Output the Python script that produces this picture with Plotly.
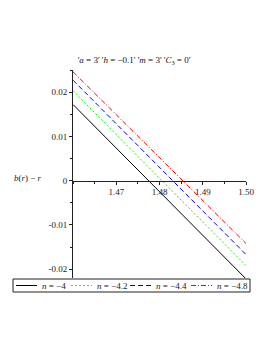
import plotly.graph_objects as go

r_vals = [1.46, 1.48, 1.50]
y_n4 = [0.0172, -0.0025, -0.0222]
y_n42 = [0.0203, 0.0006, -0.0192]
y_n44 = [0.0227, 0.0030, -0.0167]
y_n48 = [0.0246, 0.0052, -0.0142]

series_names = ["<i>n</i> = −4", "<i>n</i> = −4.2", "<i>n</i> = −4.4", "<i>n</i> = −4.8"]
series_values = [y_n4, y_n42, y_n44, y_n48]
series_colors = ["#000000", "#00ff00", "#0000ff", "#ff0000"]
series_dashes = ["solid", "2px,2px", "5px,3px", "5px,2px,1px,2px"]

xtick_vals = [1.47, 1.48, 1.49, 1.50]
xtick_text = ["1.47", "1.48", "1.49", "1.50"]
ytick_vals = [-0.02, -0.01, 0, 0.01, 0.02]
ytick_text = ["-0.02", "-0.01", "0", "0.01", "0.02"]

W, H = 273, 353
ml, mr, mt, mb = 73, 27, 70, 75
PW, PH = W - ml - mr, H - mt - mb
yr = [-0.022, 0.025]


def px_x(px):
    return (px - ml) / PW


def px_y(py):
    return (H - mb - py) / PH


fig = go.Figure()
for name, ys, col, dash in zip(series_names, series_values, series_colors, series_dashes):
    fig.add_trace(go.Scatter(x=r_vals, y=ys, mode="lines", name=name,
                             line=dict(color=col, dash=dash, width=1)))

frac0 = (0 - yr[0]) / (yr[1] - yr[0])

serif = "Liberation Serif, Times New Roman, serif"
font = dict(family=serif, size=9, color="#222")

fig.update_layout(
    width=W, height=H,
    margin=dict(l=ml, r=mr, t=mt, b=mb, autoexpand=False),
    paper_bgcolor="white", plot_bgcolor="white",
    font=font,
    showlegend=False,
    title=dict(text="'<i>a</i> = 3' '<i>h</i> = −0.1' '<i>m</i> = 3' '<i>C</i><sub>3</sub> = 0'",
               x=134 / W, xanchor="center", y=1 - 60 / H, yanchor="middle",
               font=dict(family=serif, size=9, color="#111")),
    xaxis=dict(range=[1.46, 1.50], tickvals=xtick_vals, ticktext=xtick_text,
               showgrid=False, zeroline=False, showline=True, linecolor="#222",
               linewidth=1, ticks="outside", ticklen=3, tickcolor="#222",
               anchor="free", position=frac0,
               minor=dict(dtick=0.005, tick0=1.46, ticks="outside", ticklen=2, tickcolor="#222")),
    yaxis=dict(range=yr, tickvals=ytick_vals, ticktext=ytick_text,
               showgrid=False, zeroline=False, showline=True, linecolor="#222",
               linewidth=1, ticks="outside", ticklen=3, tickcolor="#222",
               minor=dict(dtick=0.005, tick0=0, ticks="outside", ticklen=2, tickcolor="#222")),
)

# y-axis label
fig.add_annotation(text="<i>b</i>(<i>r</i>) − <i>r</i>", x=px_x(28), y=px_y(178),
                   xref="paper", yref="paper", showarrow=False,
                   xanchor="center", yanchor="middle", font=font)

# custom legend (Maple style, compact)
leg_top, leg_bot = 279, 292
leg_left, leg_right = 13, 250
fig.add_shape(type="rect", xref="paper", yref="paper",
              x0=px_x(leg_left), x1=px_x(leg_right), y0=px_y(leg_bot), y1=px_y(leg_top),
              line=dict(color="#222", width=1), fillcolor="white", layer="above")
sample_starts = [16, 71, 130, 191]
sample_len = 21
leg_mid = (leg_top + leg_bot) / 2
for s0, name, col, dash in zip(sample_starts, series_names, series_colors, series_dashes):
    fig.add_shape(type="line", xref="paper", yref="paper",
                  x0=px_x(s0), x1=px_x(s0 + sample_len), y0=px_y(leg_mid), y1=px_y(leg_mid),
                  line=dict(color=col, dash=dash, width=1), layer="above")
    fig.add_annotation(text=name, x=px_x(s0 + sample_len + 3), y=px_y(leg_mid),
                       xref="paper", yref="paper", showarrow=False,
                       xanchor="left", yanchor="middle", font=font)

fig.write_html("out.html", config={"displayModeBar": False},
               post_script="document.body.style.margin='0px';")
